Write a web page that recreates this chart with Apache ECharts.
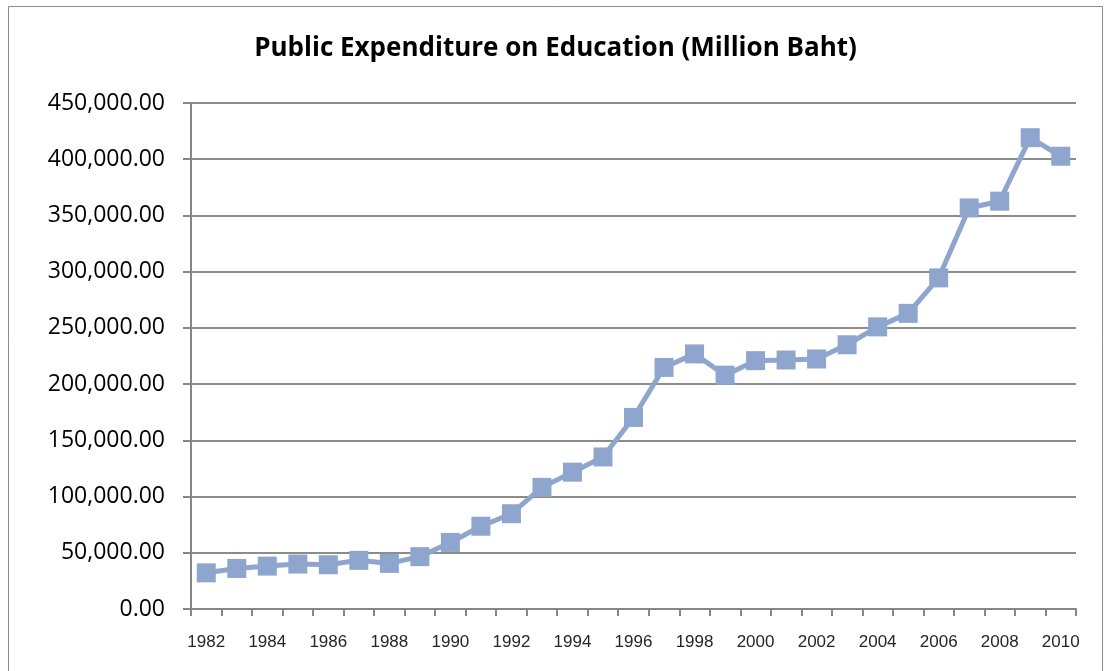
<!DOCTYPE html>
<html>
<head>
<meta charset="utf-8">
<script src="https://cdn.jsdelivr.net/npm/echarts@6/dist/echarts.min.js"></script>
<style>
  html, body { margin: 0; padding: 0; background: #ffffff; }
  #chart { width: 1111px; height: 671px; }
</style>
</head>
<body>
<div id="chart"></div>
<script>
// Thailand public expenditure on education, million baht
const years = [
  '1982','1983','1984','1985','1986','1987','1988','1989','1990','1991',
  '1992','1993','1994','1995','1996','1997','1998','1999','2000','2001',
  '2002','2003','2004','2005','2006','2007','2008','2009','2010'
];
const expenditure = [
  32150, 36060, 38160, 39960, 39360, 43270, 40560, 46570, 59190, 73620,
  84740, 108170, 121690, 135220, 170370, 214840, 226860, 207930, 220850, 221450,
  222360, 234980, 250900, 262920, 294470, 356670, 362680, 419170, 402640
];
const yTicks = { min: 0, max: 450000, step: 50000 };

function fmtMoney(v) {
  const parts = Number(v).toFixed(2).split('.');
  parts[0] = parts[0].replace(/\B(?=(\d{3})+(?!\d))/g, ',');
  return parts.join('.');
}

const chart = echarts.init(document.getElementById('chart'));
chart.setOption({
  backgroundColor: '#ffffff',
  animation: false,
  title: {
    text: 'Public Expenditure on Education (Million Baht)',
    left: 'center',
    top: 31,
    textStyle: {
      fontFamily: 'Open Sans, Lato, sans-serif',
      fontWeight: 'bold',
      fontSize: 26,
      color: '#000000'
    }
  },
  graphic: [{
    type: 'rect',
    shape: { x: 8.5, y: 6.5, width: 1094, height: 680 },
    style: { fill: 'none', stroke: '#8c8c8c', lineWidth: 1 },
    silent: true
  }],
  grid: { left: 191, right: 35, top: 103, bottom: 62 },
  xAxis: {
    type: 'category',
    data: years,
    boundaryGap: true,
    axisLine: { lineStyle: { color: '#868686', width: 2 } },
    axisTick: { show: true, alignWithLabel: false, interval: 0, length: 7, lineStyle: { color: '#868686', width: 2 } },
    axisLabel: {
      interval: 1,
      margin: 25,
      fontFamily: 'Liberation Sans, Arial, sans-serif',
      fontSize: 17,
      color: '#262626'
    },
    splitLine: { show: false }
  },
  yAxis: {
    type: 'value',
    min: yTicks.min,
    max: yTicks.max,
    interval: yTicks.step,
    axisLine: { show: true, lineStyle: { color: '#868686', width: 2 } },
    axisTick: { show: true, length: 8, lineStyle: { color: '#868686', width: 2 } },
    axisLabel: {
      margin: 26,
      fontFamily: 'Open Sans, Lato, sans-serif',
      fontSize: 23,
      color: '#000000',
      formatter: fmtMoney
    },
    splitLine: { show: true, lineStyle: { color: '#8c8c8c', width: 2 } }
  },
  series: [{
    type: 'line',
    data: expenditure,
    symbol: 'rect',
    symbolSize: 19,
    lineStyle: { color: '#8EA6CE', width: 5 },
    itemStyle: { color: '#8EA6CE' },
    z: 3
  }]
});
</script>
</body>
</html>
